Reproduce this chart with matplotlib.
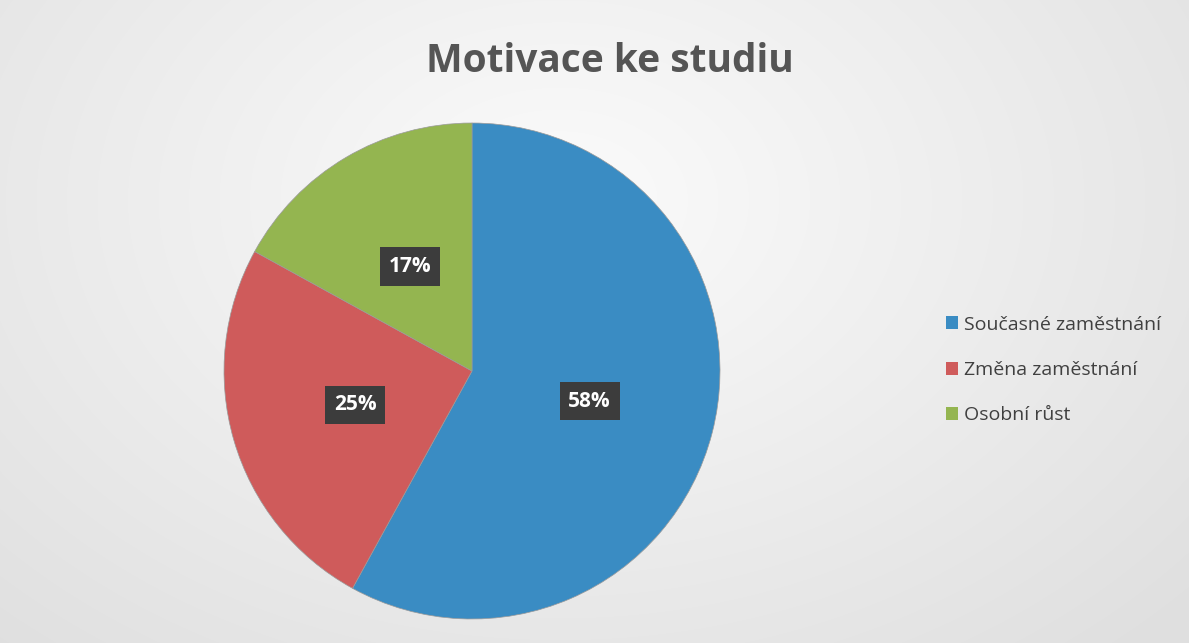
import numpy as np
import matplotlib
matplotlib.use("Agg")
import matplotlib.pyplot as plt
from matplotlib.patches import Patch

title = "Motivace ke studiu"
categories = ["Současné zaměstnání", "Změna zaměstnání", "Osobní růst"]
values = [58, 25, 17]
colors = ["#3a8cc3", "#cf5b5b", "#94b550"]

plt.rcParams['font.family'] = ['Open Sans', 'DejaVu Sans']

W, H = 1189, 643
fig = plt.figure(figsize=(W / 100, H / 100), dpi=100)

# background gradient
bg = fig.add_axes([0, 0, 1, 1], zorder=-10)
yy, xx = np.mgrid[0:H, 0:W]
d = np.sqrt(((xx - 560) / 700.0) ** 2 + ((yy - 200) / 500.0) ** 2)
shade = 0.985 - 0.09 * np.clip(d, 0, 1.2)
img = np.dstack([shade, shade, shade])
bg.imshow(img, aspect='auto', extent=[0, 1, 0, 1])
bg.set_axis_off()

cx, cy, r = 472, 371, 248
ax = fig.add_axes([(cx - r) / W, (H - cy - r) / H, 2 * r / W, 2 * r / H])
wedges, texts, autotexts = ax.pie(
    values, colors=colors, startangle=90, counterclock=False,
    autopct=lambda p: f"{p:.0f}%", pctdistance=0.49, radius=1,
    wedgeprops=dict(linewidth=0.5, edgecolor="#9a9a9a"),
    textprops=dict(color="white", fontsize=15, fontweight="bold"))
for t in autotexts:
    t.set_bbox(dict(boxstyle="square,pad=0.42", facecolor="#3c3c3c", edgecolor="none"))
ax.set_xlim(-1, 1)
ax.set_ylim(-1, 1)
ax.set_aspect('auto')
ax.set_axis_off()

fig.text(610 / W, 1 - 62 / H, title, ha="center", va="center",
         fontsize=28, fontweight="bold", color="#555555")

handles = [Patch(facecolor=c, edgecolor="none") for c in colors]
fig.legend(handles, categories, loc="center left",
           bbox_to_anchor=(928 / W, 1 - 370 / H), frameon=False,
           fontsize=14, labelcolor="#404040", handlelength=0.65,
           handleheight=0.65, handletextpad=0.3, labelspacing=1.4)

fig.savefig("out.png", dpi=100)
